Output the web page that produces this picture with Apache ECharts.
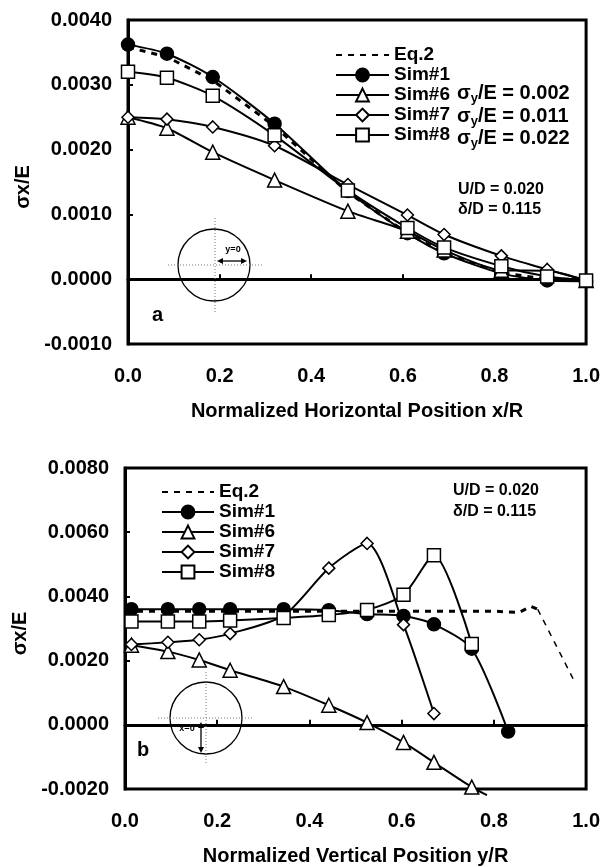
<!DOCTYPE html>
<html>
<head>
<meta charset="utf-8">
<script src="https://cdn.jsdelivr.net/npm/echarts@6/dist/echarts.min.js"></script>
<style>
  html, body { margin: 0; padding: 0; background: #fff; }
  #chart { width: 603px; height: 867px; }
</style>
</head>
<body>
<div id="chart"></div>
<script>
// panel a: horizontal position x/R
const A_X = [0, 0.085, 0.185, 0.32, 0.48, 0.61, 0.69, 0.815, 0.915, 1.0];
const A_EQ2 = [0.00358, 0.00343, 0.00307, 0.00236, 0.00134, 0.00071, 0.00040, 0.00010, 0.00000, 0.00000];
const A_SIM1 = [0.00362, 0.00348, 0.00312, 0.00240, 0.00136, 0.00071, 0.00040, 0.00009, -0.00002, -0.00003];
const A_SIM6 = [0.00250, 0.00233, 0.00196, 0.00153, 0.00105, 0.00074, 0.00045, 0.00014, 0.00013, -0.00002];
const A_SIM7 = [0.00250, 0.00247, 0.00235, 0.00206, 0.00146, 0.00099, 0.00069, 0.00036, 0.00015, -0.00002];
const A_SIM8 = [0.00320, 0.00311, 0.00283, 0.00222, 0.00137, 0.00079, 0.00049, 0.00020, 0.00004, -0.00002];

// panel b: vertical position y/R
const B_X = [0.014, 0.093, 0.161, 0.228, 0.344, 0.442, 0.525, 0.604, 0.670, 0.752, 0.831];
const B_EQ2_X = [0.0, 0.1, 0.2, 0.3, 0.4, 0.5, 0.6, 0.7, 0.8, 0.855, 0.88, 0.895];
const B_EQ2 = [0.00354, 0.00354, 0.00354, 0.00354, 0.00354, 0.00354, 0.00354, 0.00354, 0.00354, 0.00350, 0.00369, 0.00360];
const B_EQ2_TAIL_X = [0.895, 0.973];
const B_EQ2_TAIL = [0.00360, 0.00140];
const B_SIM1 = [0.00360, 0.00360, 0.00360, 0.00360, 0.00360, 0.00357, 0.00345, 0.00339, 0.00313, 0.00237, -0.00021];
const B_SIM6 = [0.00248, 0.00228, 0.00202, 0.00170, 0.00119, 0.00061, 0.00007, -0.00055, -0.00117, -0.00194];
const B_SIM6_END = [0.785, -0.00219]; // line runs past the last marker
const B_SIM7 = [0.00250, 0.00257, 0.00265, 0.00284, 0.00340, 0.00488, 0.00565, 0.00312, 0.00035];
const B_SIM8 = [0.00322, 0.00322, 0.00322, 0.00325, 0.00333, 0.00342, 0.00358, 0.00405, 0.00528, 0.00252];

const NAMES = ["Eq.2", "Sim#1", "Sim#6", "Sim#7", "Sim#8"];
const FONT = "'Liberation Sans', Arial, sans-serif";

function pairs(xs, ys) {
  return ys.map((y, i) => [xs[i], y]);
}

function simSeries(name, symbol, size, fill, data, idx) {
  return {
    name: name,
    type: "line",
    xAxisIndex: idx,
    yAxisIndex: idx,
    data: data,
    symbol: symbol,
    symbolSize: size,
    smooth: 0.25,
    clip: false,
    lineStyle: { color: "#000", width: 2 },
    itemStyle: { color: fill, borderColor: "#000", borderWidth: 1.5 },
    emphasis: { disabled: true },
  };
}

function eqSeries(name, data, idx, width) {
  return {
    name: name,
    type: "line",
    xAxisIndex: idx,
    yAxisIndex: idx,
    data: data,
    symbol: "none",
    lineStyle: { color: "#000", width: width, type: [6, 6] },
    itemStyle: { color: "#000" },
    emphasis: { disabled: true },
  };
}

function xAxisCfg(idx, name) {
  return {
    gridIndex: idx,
    type: "value",
    min: 0, max: 1, interval: 0.2,
    name: name,
    nameLocation: "middle",
    nameGap: 57,
    nameTextStyle: { color: "#000", fontSize: 20, fontWeight: "bold", fontFamily: FONT },
    axisLine: { show: true, lineStyle: { color: "#000", width: 3 } },
    axisTick: { show: true, inside: true, length: 5, lineStyle: { color: "#000", width: 2 } },
    axisLabel: { color: "#000", fontSize: 20, fontWeight: "bold", fontFamily: FONT, margin: 22,
                 formatter: v => v.toFixed(1) },
    splitLine: { show: false },
  };
}

function yAxisCfg(idx, min, max, interval) {
  return {
    gridIndex: idx,
    type: "value",
    min: min, max: max, interval: interval,
    name: "σx/E",
    nameLocation: "middle",
    nameGap: 82,
    nameTextStyle: { color: "#000", fontSize: 20, fontWeight: "bold", fontFamily: FONT, padding: [0, 10, 0, 0] },
    axisLine: { show: true, lineStyle: { color: "#000", width: 3 } },
    axisTick: { show: true, inside: true, length: 5, lineStyle: { color: "#000", width: 2 } },
    axisLabel: { color: "#000", fontSize: 20, fontWeight: "bold", fontFamily: FONT, margin: 16,
                 formatter: v => v.toFixed(4) },
    splitLine: { show: false },
  };
}

function legendCfg(left, top, w) {
  return {
    data: NAMES.map(n => n === "Eq.2"
      ? { name: n, itemStyle: { opacity: 0 } }
      : { name: n }),
    orient: "vertical",
    left: left,
    top: top,
    padding: 0,
    itemGap: 0,
    itemWidth: w,
    itemHeight: 16,
    selectedMode: false,
    textStyle: { color: "#000", fontSize: 19, fontWeight: "bold", fontFamily: FONT, lineHeight: 20 },
  };
}

function txt(x, y, text, size, align) {
  return {
    type: "text", x: x, y: y, z: 50,
    style: { text: text, fill: "#000", font: "bold " + size + "px " + FONT,
             align: align || "left", verticalAlign: "middle" },
  };
}

function sigmaY(x, y, val) {
  return {
    type: "text", x: x, y: y, z: 50,
    style: {
      text: "{s|σ}{b|y}{s|/E = " + val + "}",
      verticalAlign: "middle",
      rich: {
        s: { fill: "#000", font: "bold 20px " + FONT },
        b: { fill: "#000", font: "bold 13px " + FONT, padding: [10, 0, 0, 0] },
      },
    },
  };
}

function dotted(x1, y1, x2, y2) {
  return { type: "line", z: 40, shape: { x1, y1, x2, y2 },
           style: { stroke: "#777", lineWidth: 1, lineDash: [1, 2] } };
}

function arrowH(x1, x2, y) {
  return [
    { type: "line", z: 41, shape: { x1: x1 + 2, y1: y, x2: x2 - 2, y2: y }, style: { stroke: "#000", lineWidth: 1.3 } },
    { type: "polygon", z: 41, shape: { points: [[x1, y], [x1 + 6, y - 3], [x1 + 6, y + 3]] }, style: { fill: "#000" } },
    { type: "polygon", z: 41, shape: { points: [[x2, y], [x2 - 6, y - 3], [x2 - 6, y + 3]] }, style: { fill: "#000" } },
  ];
}

function arrowV(x, y1, y2) {
  return [
    { type: "line", z: 41, shape: { x1: x, y1: y1 + 2, x2: x, y2: y2 - 2 }, style: { stroke: "#000", lineWidth: 1.3 } },
    { type: "polygon", z: 41, shape: { points: [[x, y1], [x - 3, y1 + 6], [x + 3, y1 + 6]] }, style: { fill: "#000" } },
    { type: "polygon", z: 41, shape: { points: [[x, y2], [x - 3, y2 - 6], [x + 3, y2 - 6]] }, style: { fill: "#000" } },
  ];
}

const chart = echarts.init(document.getElementById("chart"), null, { renderer: "canvas" });

const graphics = [
  // panel a annotations
  sigmaY(457, 93, "0.002"),
  sigmaY(457, 116, "0.011"),
  sigmaY(457, 138, "0.022"),
  txt(458, 190, "U/D = 0.020", 16),
  txt(458, 210, "δ/D = 0.115", 16),
  txt(152, 315, "a", 20),
  { type: "ellipse", z: 40, shape: { cx: 214, cy: 265, rx: 36, ry: 36 }, style: { stroke: "#000", fill: null, lineWidth: 1.3 } },
  dotted(215, 218, 215, 312),
  dotted(168, 265, 262, 265),
  ...arrowH(217, 247, 261),
  txt(233, 250, "y=0", 9, "center"),
  // panel b annotations
  txt(453, 491, "U/D = 0.020", 16),
  txt(453, 512, "δ/D = 0.115", 16),
  txt(137, 750, "b", 20),
  { type: "ellipse", z: 40, shape: { cx: 206, cy: 718, rx: 36, ry: 36 }, style: { stroke: "#000", fill: null, lineWidth: 1.3 } },
  dotted(206, 672, 206, 765),
  dotted(158, 718, 253, 718),
  ...arrowV(201, 722, 753),
  txt(187, 729, "x=0", 9, "center"),
];

chart.setOption({
  animation: false,
  backgroundColor: "#fff",
  grid: [
    { left: 128, right: 13, top: 20, height: 324, show: true, borderColor: "#000", borderWidth: 3, backgroundColor: "transparent" },
    { left: 125, right: 15, top: 468, height: 324, show: true, borderColor: "#000", borderWidth: 3, backgroundColor: "transparent" },
  ],
  xAxis: [
    xAxisCfg(0, "Normalized Horizontal Position x/R"),
    xAxisCfg(1, "Normalized Vertical Position y/R"),
  ],
  yAxis: [
    yAxisCfg(0, -0.001, 0.004, 0.001),
    yAxisCfg(1, -0.002, 0.008, 0.002),
  ],
  legend: [
    legendCfg(335, 45, 53),
    legendCfg(161, 482, 52),
  ],
  graphic: graphics,
  series: [
    eqSeries("Eq.2", pairs(A_X, A_EQ2), 0, 3),
    simSeries("Sim#1", "circle", 13, "#000", pairs(A_X, A_SIM1), 0),
    simSeries("Sim#6", "triangle", 14, "#fff", pairs(A_X, A_SIM6), 0),
    simSeries("Sim#7", "diamond", 12, "#fff", pairs(A_X, A_SIM7), 0),
    simSeries("Sim#8", "rect", 13, "#fff", pairs(A_X, A_SIM8), 0),

    eqSeries("Eq.2", pairs(B_EQ2_X, B_EQ2), 1, 3),
    eqSeries("Eq.2 tail", pairs(B_EQ2_TAIL_X, B_EQ2_TAIL), 1, 1.5),
    simSeries("Sim#1", "circle", 13, "#000", pairs(B_X, B_SIM1), 1),
    simSeries("Sim#6", "triangle", 14, "#fff",
      pairs(B_X, B_SIM6).concat([{ value: B_SIM6_END, symbol: "none" }]), 1),
    simSeries("Sim#7", "diamond", 12, "#fff", pairs(B_X, B_SIM7), 1),
    simSeries("Sim#8", "rect", 13, "#fff", pairs(B_X, B_SIM8), 1),
  ],
});
</script>
</body>
</html>
